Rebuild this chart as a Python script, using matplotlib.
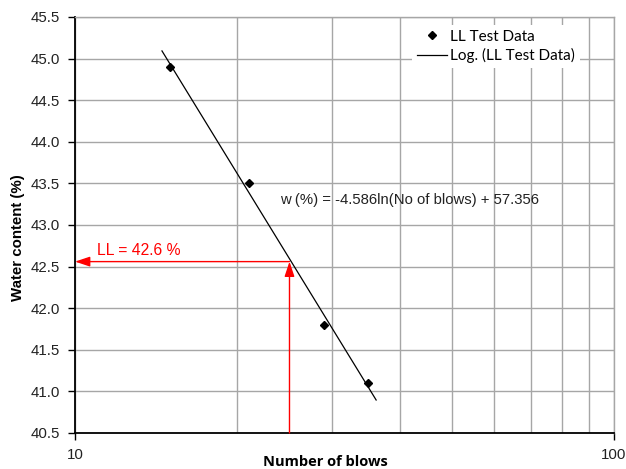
import numpy as np
import matplotlib
matplotlib.use("Agg")
import matplotlib.pyplot as plt

# Data
blows = [15, 21, 29, 35]
water_content = [44.9, 43.5, 41.8, 41.1]
trend_a = -4.586
trend_b = 57.356
trend_range = [14.5, 36.2]
ll_blows = 25
ll_value = 42.56
ll_label = "LL = 42.6 %"
eq_label = "w (%) = -4.586ln(No of blows) + 57.356"
yticks = [40.5, 41.0, 41.5, 42.0, 42.5, 43.0, 43.5, 44.0, 44.5, 45.0, 45.5]

W, H = 626, 469
fig = plt.figure(figsize=(W / 100, H / 100), dpi=100)
ax = fig.add_axes([75 / W, 1 - 433 / H, (614 - 75) / W, (433 - 17) / H])

grid_c = "#a6a6a6"
ax.set_xscale("log")
ax.set_xlim(10, 100)
ax.set_ylim(40.5, 45.5)
ax.set_yticks(yticks)
ax.set_yticklabels([f"{v:.1f}" for v in yticks])
ax.set_xticks([10, 100])
ax.set_xticklabels(["10", "100"])
ax.xaxis.set_minor_locator(matplotlib.ticker.LogLocator(base=10, subs=np.arange(2, 10)))
ax.xaxis.set_minor_formatter(matplotlib.ticker.NullFormatter())
ax.grid(True, which="both", axis="x", color=grid_c, lw=1.0)
ax.grid(True, which="major", axis="y", color=grid_c, lw=1.0)
ax.set_axisbelow(True)

for s in ["top", "right"]:
    ax.spines[s].set_color(grid_c)
    ax.spines[s].set_linewidth(1.0)
for s in ["left", "bottom"]:
    ax.spines[s].set_color("black")
    ax.spines[s].set_linewidth(1.3)

ax.tick_params(axis="y", which="major", direction="out", length=5, width=1.0, pad=6, colors="black", labelcolor="#222222")
ax.tick_params(axis="x", which="major", direction="out", length=5, width=1.0, pad=6, labelcolor="#222222")
ax.tick_params(axis="x", which="minor", length=0)
for lab in ax.get_yticklabels() + ax.get_xticklabels():
    lab.set_fontfamily("Liberation Sans")
    lab.set_fontsize(10.8)

# Data points
ax.plot(blows, water_content, linestyle="none", marker="D", markersize=4.5,
        color="black", label="LL Test Data", zorder=4)

# Trendline
xs = np.geomspace(trend_range[0], trend_range[1], 50)
ax.plot(xs, trend_a * np.log(xs) + trend_b, color="black", lw=0.9,
        label="Log. (LL Test Data)", zorder=3)

# LL arrows
arrow_kw = dict(arrowstyle="-|>,head_length=0.9,head_width=0.3", color="red", lw=1.0,
                shrinkA=0, shrinkB=0)
ax.annotate("", xy=(10, ll_value), xytext=(ll_blows, ll_value), arrowprops=arrow_kw, zorder=5)
ax.annotate("", xy=(ll_blows, ll_value), xytext=(ll_blows, 40.5), arrowprops=arrow_kw, zorder=5)
fig.text(97 / W, 1 - 250 / H, ll_label, color="red", fontsize=11.3,
         family="Liberation Sans", ha="left", va="center")

# Equation
fig.text(280 / W, 1 - 200 / H, eq_label, fontsize=10.7, family="Liberation Sans",
         ha="left", va="center", color="#222222")

# Labels
ax.set_xlabel("Number of blows", fontsize=10.5, fontweight="bold", family="Open Sans")
ax.xaxis.set_label_coords((325 - 75) / (614 - 75), -(462 - 433) / (433 - 17), transform=ax.transAxes)
ax.xaxis.label.set_va("center")
ax.set_ylabel("Water content (%)", fontsize=10.8, fontweight="bold", family="Liberation Sans")
ax.yaxis.set_label_coords(-(75 - 18) / (614 - 75), (433 - 238) / (433 - 17), transform=ax.transAxes)
ax.yaxis.label.set_va("center")

leg = ax.legend(loc="upper left", bbox_to_anchor=(412 / W, 1 - 25 / H),
                bbox_transform=fig.transFigure, frameon=True, fancybox=False,
                edgecolor="none", facecolor="white", framealpha=1,
                prop=dict(family="Lato", size=11), handlelength=2.0,
                handletextpad=0.2, borderpad=0.3, labelspacing=0.3,
                borderaxespad=0)
leg.set_zorder(6)

fig.savefig("out.png", dpi=100)
